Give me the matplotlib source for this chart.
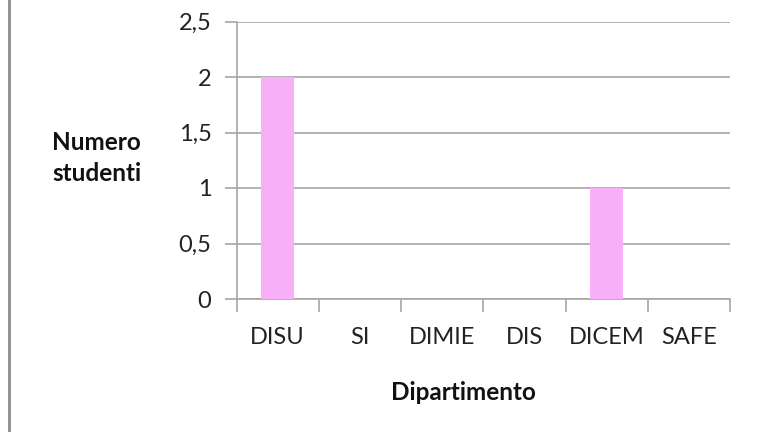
import matplotlib
matplotlib.use('Agg')
import matplotlib.pyplot as plt
from matplotlib.lines import Line2D

plt.rcParams['font.family'] = ['Lato', 'DejaVu Sans']

# dati
categorie = ["DISU", "SI", "DIMIE", "DIS", "DICEM", "SAFE"]
studenti = [2, 0, 0, 0, 1, 0]
y_ticks = [0, 0.5, 1, 1.5, 2, 2.5]
y_labels = ["0", "0,5", "1", "1,5", "2", "2,5"]

W, H = 761, 432
fig = plt.figure(figsize=(W / 100, H / 100), dpi=100)
ax = fig.add_axes([236.5 / W, 1 - 299 / H, (730 - 236.5) / W, (299 - 21.5) / H])

x = list(range(len(categorie)))
ax.bar(x, studenti, width=0.4, color='#F7B0F7', zorder=3)

ax.set_xlim(-0.5, len(categorie) - 0.5)
ax.set_ylim(0, 2.5)

grigio = '#A6A6A6'
ax.set_yticks(y_ticks)
ax.set_yticklabels(y_labels)
ax.yaxis.grid(True, color=grigio, lw=1.2, zorder=0)
ax.set_xticks(x)
ax.set_xticklabels(categorie)
ax.set_xticks([i - 0.5 for i in range(len(categorie) + 1)], minor=True)

ax.tick_params(axis='x', which='major', length=0, pad=20, labelsize=17, labelcolor='#222222')
ax.tick_params(axis='x', which='minor', length=9, width=1.2, color=grigio, direction='out')
ax.tick_params(axis='y', length=9, width=1.2, color=grigio, pad=9, labelsize=17, labelcolor='#222222')

for s in ['top', 'right']:
    ax.spines[s].set_visible(False)
for s in ['left', 'bottom']:
    ax.spines[s].set_color(grigio)
    ax.spines[s].set_linewidth(1.2)

# etichette assi
fig.text(52 / W, 1 - 158 / H, "Numero\nstudenti", fontsize=17.5, fontweight='bold',
         ha='left', va='center', linespacing=1.4, color='#111111')
fig.text(463 / W, 1 - 393 / H, "Dipartimento", fontsize=17.5, fontweight='bold',
         ha='center', va='center', color='#111111')

# bordo sinistro
fig.add_artist(Line2D([8.5 / W, 8.5 / W], [0, 1], color='#8C8C8C', lw=2))

fig.savefig('out.png', dpi=100)
